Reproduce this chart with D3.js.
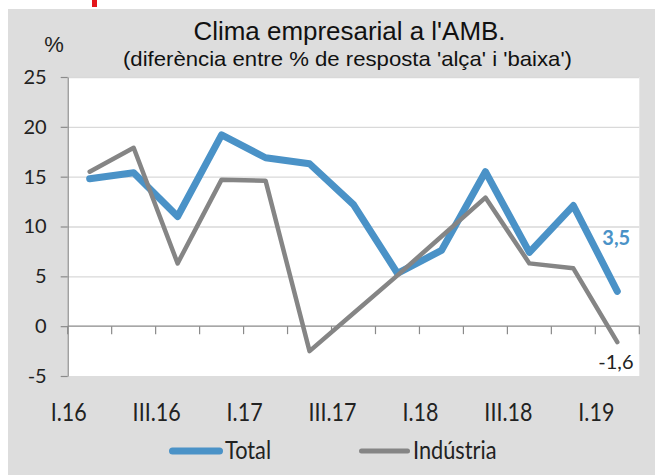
<!DOCTYPE html>
<html>
<head>
<meta charset="utf-8">
<script src="https://cdnjs.cloudflare.com/ajax/libs/d3/7.8.5/d3.min.js"></script>
<style>
  body { margin: 0; background: #fff; }
  svg { display: block; }
</style>
</head>
<body>
<script>
// Data
var quarters = ["I.16", "II.16", "III.16", "IV.16", "I.17", "II.17", "III.17", "IV.17", "I.18", "II.18", "III.18", "IV.18", "I.19"];
var totalValues = [14.8, 15.4, 11.0, 19.2, 16.9, 16.3, 12.2, 5.3, 7.6, 15.5, 7.4, 12.1, 3.5];
var industriaValues = [15.5, 17.9, 6.3, 14.7, 14.6, -2.5, 1.3, 5.1, 9.0, 12.9, 6.3, 5.8, -1.6];
var yTicks = [-5, 0, 5, 10, 15, 20, 25];
var xTickLabels = ["I.16", "III.16", "I.17", "III.17", "I.18", "III.18", "I.19"];

var svgWidth = 655;
var svgHeight = 475;

// plot area edges
var plot = { left: 67.7, right: 639.3, top: 77, bottom: 376 };

var blue = "#4a92c7";
var grey = "#858585";
var calibriLike = "Lato, 'Open Sans', sans-serif";
var arialLike = "'Liberation Sans', Arial, sans-serif";

// comma decimals and a plain hyphen for negatives, like the original
var fmtValue = v => d3.format(".1f")(v).replace(".", ",").replace("\u2212", "-");

var svg = d3.select("body")
    .append("svg")
    .attr("width", svgWidth)
    .attr("height", svgHeight);

// grey chart panel
svg.append("rect")
    .attr("x", 8).attr("y", 9)
    .attr("width", svgWidth - 8).attr("height", svgHeight - 9)
    .attr("fill", "#dddddd");

// little red mark cut off at the top
svg.append("rect")
    .attr("x", 92).attr("y", 0)
    .attr("width", 5).attr("height", 7)
    .attr("fill", "#e3151c");

// white plot area
svg.append("rect")
    .attr("x", plot.left).attr("y", plot.top)
    .attr("width", plot.right - plot.left).attr("height", plot.bottom - plot.top)
    .attr("fill", "#ffffff");

// scales
var xScale = d3.scalePoint()
    .domain(quarters)
    .range([plot.left, plot.right])
    .padding(0.5);

var yScale = d3.scaleLinear()
    .domain([-5, 25])
    .range([plot.bottom, plot.top]);

var step = xScale.step();

// gridlines
svg.append("g")
    .attr("transform", `translate(${plot.left}, 0)`)
    .call(d3.axisLeft(yScale).tickValues(yTicks.filter(d => d > 0)).tickSize(-(plot.right - plot.left)).tickFormat(""))
    .call(g => g.select(".domain").remove())
    .call(g => g.selectAll("line").attr("stroke", "#d9d9d9").attr("stroke-width", 1.3));

// y axis
var yAxis = svg.append("g")
    .attr("transform", `translate(${plot.left}, 0)`)
    .call(d3.axisLeft(yScale).tickValues(yTicks).tickSize(7).tickSizeOuter(0).tickPadding(14).tickFormat(d => String(d)));

yAxis.select(".domain").attr("stroke", "#8a8a8a").attr("stroke-width", 1.2);
yAxis.selectAll(".tick line").attr("stroke", "#8a8a8a").attr("stroke-width", 1.2);
yAxis.selectAll(".tick text")
    .attr("font-family", calibriLike)
    .attr("font-size", 20)
    .attr("fill", "#222");

// x axis at zero, ticks between categories
var boundaries = quarters.map(q => xScale(q) - step / 2).concat([xScale(quarters[quarters.length - 1]) + step / 2]);

var xAxis = svg.append("g");
xAxis.append("line")
    .attr("x1", plot.left).attr("x2", plot.right)
    .attr("y1", yScale(0)).attr("y2", yScale(0))
    .attr("stroke", "#8a8a8a").attr("stroke-width", 1.2);

xAxis.selectAll("line.xtick")
    .data(boundaries)
    .enter()
    .append("line")
    .attr("class", "xtick")
    .attr("x1", d => d).attr("x2", d => d)
    .attr("y1", yScale(0)).attr("y2", yScale(0) + 8)
    .attr("stroke", "#8a8a8a").attr("stroke-width", 1.2);

// category labels (every second quarter, at the left edge of its band)
svg.append("g")
    .selectAll("text")
    .data(xTickLabels)
    .enter()
    .append("text")
    .attr("transform", d => `translate(${xScale(d) - step / 2 + 1}, 420.5) scale(0.86, 1)`)
    .attr("text-anchor", "middle")
    .attr("font-family", calibriLike)
    .attr("font-size", 25)
    .attr("fill", "#222")
    .text(d => d);

// lines
var line = d3.line()
    .x((d, i) => xScale(quarters[i]))
    .y(d => yScale(d));

svg.append("path")
    .datum(totalValues)
    .attr("d", line)
    .attr("fill", "none")
    .attr("stroke", blue)
    .attr("stroke-width", 7)
    .attr("stroke-linejoin", "round")
    .attr("stroke-linecap", "round");

svg.append("path")
    .datum(industriaValues)
    .attr("d", line)
    .attr("fill", "none")
    .attr("stroke", grey)
    .attr("stroke-width", 4.5)
    .attr("stroke-linejoin", "round")
    .attr("stroke-linecap", "round");

// end value labels
var last = quarters.length - 1;
svg.append("text")
    .attr("x", xScale(quarters[last]) - 15)
    .attr("y", yScale(totalValues[last]) - 46)
    .attr("font-family", calibriLike)
    .attr("font-size", 20)
    .attr("font-weight", "bold")
    .attr("fill", blue)
    .text(fmtValue(totalValues[last]));

svg.append("text")
    .attr("x", xScale(quarters[last]) - 19)
    .attr("y", yScale(industriaValues[last]) + 27)
    .attr("font-family", calibriLike)
    .attr("font-size", 20)
    .attr("fill", "#222")
    .text(fmtValue(industriaValues[last]));

// titles
svg.append("text")
    .attr("x", 349.5).attr("y", 39.5)
    .attr("text-anchor", "middle")
    .attr("font-family", arialLike)
    .attr("font-size", 25.5)
    .attr("fill", "#111")
    .attr("textLength", 312)
    .attr("lengthAdjust", "spacingAndGlyphs")
    .text("Clima empresarial a l'AMB.");

svg.append("text")
    .attr("x", 347.5).attr("y", 66)
    .attr("text-anchor", "middle")
    .attr("font-family", arialLike)
    .attr("font-size", 21)
    .attr("fill", "#111")
    .attr("textLength", 449)
    .attr("lengthAdjust", "spacingAndGlyphs")
    .text("(diferència entre % de resposta 'alça' i 'baixa')");

svg.append("text")
    .attr("x", 54).attr("y", 52)
    .attr("text-anchor", "middle")
    .attr("font-family", arialLike)
    .attr("font-size", 22)
    .attr("fill", "#222")
    .text("%");

// legend
var legendItems = [
    { name: "Total", color: blue, width: 7, x1: 172.5, x2: 219.5, textX: 225 },
    { name: "Indústria", color: grey, width: 5, x1: 361.5, x2: 407.5, textX: 413 }
];

var legend = svg.append("g").selectAll("g")
    .data(legendItems)
    .enter()
    .append("g");

legend.append("line")
    .attr("x1", d => d.x1).attr("x2", d => d.x2)
    .attr("y1", 451).attr("y2", 451)
    .attr("stroke", d => d.color)
    .attr("stroke-width", d => d.width)
    .attr("stroke-linecap", "round");

legend.append("text")
    .attr("transform", d => `translate(${d.textX}, 459.3) scale(0.87, 1)`)
    .attr("font-family", calibriLike)
    .attr("font-size", 25)
    .attr("fill", "#222")
    .text(d => d.name);
</script>
</body>
</html>
